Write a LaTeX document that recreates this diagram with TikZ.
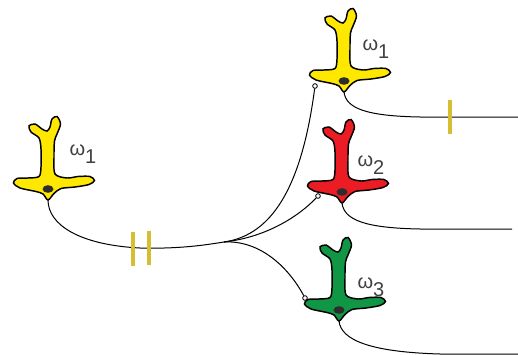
\documentclass[tikz,border=0pt]{standalone}
\usepackage{fontspec}
\setmainfont{Liberation Sans}

\definecolor{cellyellow}{RGB}{255,232,0}
\definecolor{cellred}{RGB}{236,28,36}
\definecolor{cellgreen}{RGB}{16,150,68}
\definecolor{barmustard}{RGB}{214,190,48}
\definecolor{labelgrey}{RGB}{64,64,64}
\definecolor{nucleusgrey}{RGB}{45,45,45}

\tikzset{every picture/.style={line width=0.75pt}}
\tikzset{
  pics/neuron/.style={code={
    %Shape: cell body, outline in px around the nucleus (y up inside the pic)
    \draw [line width=1.1pt, fill=#1] plot [smooth cycle, tension=0.5] coordinates {
      (0,-11) (6,-4.5) (13,0.5) (27,2) (41,4.5) (46.5,8.5) (42,12.5) (30,12.5)
      (19,11) (7,15) (6,32) (6.5,48) (9,55) (12.5,65) (9,72.5) (4,70)
      (2,62) (-1,58) (-6,60) (-13,65) (-19,63) (-17,57) (-9,51) (-7,40)
      (-7,22) (-9,12.5) (-20,11) (-31,10.5) (-34.5,6) (-28,1) (-12,-2.5) (-5,-5)};
    %Shape: nucleus
    \fill [nucleusgrey] (0,0) ellipse [x radius=5.5, y radius=3.8];
    \coordinate (-axon) at (0,-11);
  }},
  synapse/.style={circle, draw, fill=white, inner sep=0pt, minimum size=3.5pt, line width=0.6pt},
  blocker/.style={fill=barmustard, inner sep=0pt, minimum width=3pt, minimum height=25.5pt},
  omega/.style={anchor=base west, inner sep=0pt, text=labelgrey, font=\fontsize{15}{17}\selectfont},
}

\begin{document}
\begin{tikzpicture}[x=0.75pt,y=0.75pt,yscale=-1,xscale=1]
\useasboundingbox (0,0) rectangle (518,354);

%Neurons
\pic (input) at (48,189) {neuron=cellyellow};
\pic (top) at (344,81) {neuron=cellyellow};
\pic (mid) at (342,192) {neuron=cellred};
\pic (low) at (339,310) {neuron=cellgreen};

% Text Node
\node [omega] (lblinput) at (69,155) {ω\raisebox{-6pt}{1}};
% Text Node
\node [omega] (lbltop) at (362,50) {ω\raisebox{-6pt}{1}};
% Text Node
\node [omega] (lblmid) at (357,166.5) {ω\raisebox{-6pt}{2}};
% Text Node
\node [omega] (lbllow) at (357,288) {ω\raisebox{-6pt}{3}};

%Synapses
\node [synapse] (syntop) at (315,86) {};
\node [synapse] (synmid) at (318,196) {};
\node [synapse] (synlow) at (305,298) {};

\coordinate (fork) at (224,242);
\coordinate (outtop) at (518,117);
\coordinate (outmid) at (512,229);
\coordinate (outlow) at (518,354);

%Curve Lines: input axon and its branches
\draw (input-axon) .. controls (48,225) and (80,245) .. (140,248) .. controls (180,249) and (205,245) .. (fork);
\draw (fork) .. controls (265,236) and (300,200) .. (syntop);
\draw (fork) .. controls (268,237) and (300,215) .. (synmid);
\draw (fork) .. controls (262,240) and (290,270) .. (synlow);

%Curve Lines: outgoing axons
\draw (top-axon) .. controls (346,108) and (365,116) .. (420,117) -- (outtop);
\draw (mid-axon) .. controls (344,220) and (365,228) .. (420,229) -- (outmid);
\draw (low-axon) .. controls (341,340) and (370,352) .. (440,354) -- (outlow);

%Shape: blocking bars
\node [blocker] (cutA) at (133,249) {};
\node [blocker] (cutB) at (149,248) {};
\node [blocker] (cutC) at (450,117) {};

\end{tikzpicture}
\end{document}
